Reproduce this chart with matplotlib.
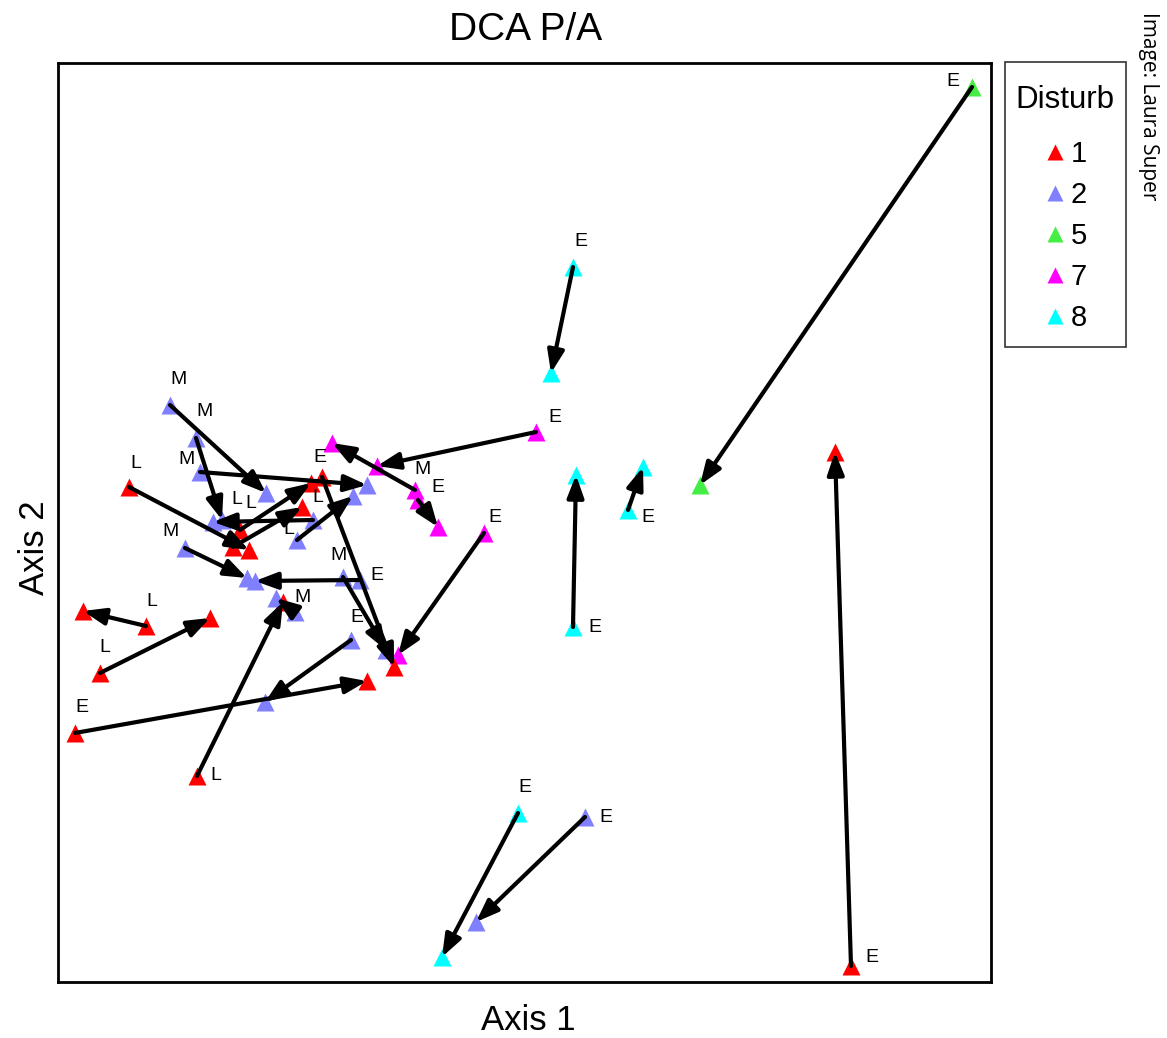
import matplotlib
matplotlib.use("Agg")
import matplotlib.pyplot as plt
from matplotlib.patches import FancyArrowPatch, Rectangle
from matplotlib.lines import Line2D

plt.rcParams['font.family'] = ['Liberation Sans', 'DejaVu Sans']

# ---- data (axis units) ----
groups = [5, 8, 7, 7, 7, 7, 8, 8, 8, 2, 1, 1, 2, 1, 1, 1, 2, 2, 2, 1,
          2, 2, 2, 2, 1, 2, 2, 1, 1]
tail_x = [914, 515, 478, 357, 360, 426, 515, 570, 460, 527, 793, 17, 293, 139, 42,
          88, 237, 302, 285, 264, 112, 138, 142, 127, 71, 239, 255, 182, 175]
tail_y = [895, 715, 550, 492, 482, 449, 355, 472, 169, 165, 16, 249, 342, 206, 309,
          356, 370, 402, 405, 505, 577, 544, 510, 434, 495, 442, 462, 452, 435]
head_x = [642, 493, 319, 274, 380, 340, 518, 585, 384, 418, 777, 309, 207, 225, 152,
          25, 218, 197, 328, 336, 208, 164, 309, 189, 191, 295, 155, 253, 244]
head_y = [497, 609, 516, 539, 455, 327, 507, 515, 25, 60, 530, 301, 280, 380, 364,
          371, 384, 401, 332, 315, 489, 462, 497, 404, 432, 486, 460, 499, 475]
labels = ['E', 'E', 'E', 'M', 'E', 'E', 'E', 'E', 'E', 'E', 'E', 'E', 'E', 'L', 'L',
          'L', 'M', 'E', 'M', 'E', 'M', 'M', 'M', 'M', 'L', 'L', 'L', 'L', 'L']
label_x = [895, 523, 497, 365, 380, 437, 537, 590, 467, 548, 814, 24, 299, 158, 47,
           94, 245, 319, 280, 262, 121, 146, 128, 113, 78, 231, 260, 193, 179]
label_y = [901, 740, 564, 512, 495, 464, 355, 464, 195, 165, 25, 274, 365, 207, 335,
           381, 384, 407, 427, 525, 602, 571, 523, 450, 519, 452, 485, 479, 482]

legend_groups = [1, 2, 5, 7, 8]
group_colors = {1: '#FF0000', 2: '#8080FF', 5: '#44EE44', 7: '#FF00FF', 8: '#00FFFF'}

W, H = 1167, 1038
fig = plt.figure(figsize=(W / 100, H / 100), dpi=100)
ax = fig.add_axes([58 / W, 1 - 982 / H, (991 - 58) / W, (982 - 63) / H])
ax.set_xlim(0, 933)
ax.set_ylim(0, 919)
ax.set_xticks([])
ax.set_yticks([])
for s in ax.spines.values():
    s.set_linewidth(2)
    s.set_color('black')

# points
for xs, ys in [(tail_x, tail_y), (head_x, head_y)]:
    for i in range(len(xs)):
        ax.plot(xs[i], ys[i], marker='^', ms=13, color=group_colors[groups[i]],
                mec='none', ls='none', zorder=2)

# arrows
for i in range(len(tail_x)):
    arr = FancyArrowPatch((tail_x[i], tail_y[i]), (head_x[i], head_y[i]),
                          arrowstyle='-|>,head_length=0.75,head_width=0.28',
                          mutation_scale=18, lw=3, color='black',
                          shrinkA=0, shrinkB=0, zorder=3)
    ax.add_patch(arr)

# labels
for i in range(len(labels)):
    ax.text(label_x[i], label_y[i], labels[i], fontsize=14, ha='center',
            va='center', zorder=4)

# texts
fig.text(526 / W, 1 - 30 / H, 'DCA P/A', fontsize=28, ha='center', va='center')
fig.text(528 / W, 1 - 1020 / H, 'Axis 1', fontsize=25, ha='center', va='center')
fig.text(35 / W, 1 - 548 / H, 'Axis 2', fontsize=25, ha='center', va='center',
         rotation=90)
fig.text(1148 / W, 1 - 106 / H, 'Image: Laura Super', fontsize=15, ha='center',
         va='center', rotation=-90, family='Open Sans')

# legend frame
fig.patches.append(Rectangle((1005 / W, 1 - 347 / H), 121 / W, 285 / H,
                             transform=fig.transFigure, fill=False,
                             edgecolor='#333333', lw=1.2))

handles = [Line2D([], [], marker='^', ls='none', ms=11, color=group_colors[g],
                  mec='none') for g in legend_groups]
leg = fig.legend(handles, [str(g) for g in legend_groups], title='Disturb',
                 loc='upper center', bbox_to_anchor=(1065 / W, 1 - 85 / H),
                 fontsize=21, title_fontsize=22.5, frameon=False,
                 handlelength=0.8, handletextpad=0.15,
                 labelspacing=0.45, borderpad=0, borderaxespad=0)
leg._legend_box.sep = 18

fig.savefig('out.png', dpi=100)
